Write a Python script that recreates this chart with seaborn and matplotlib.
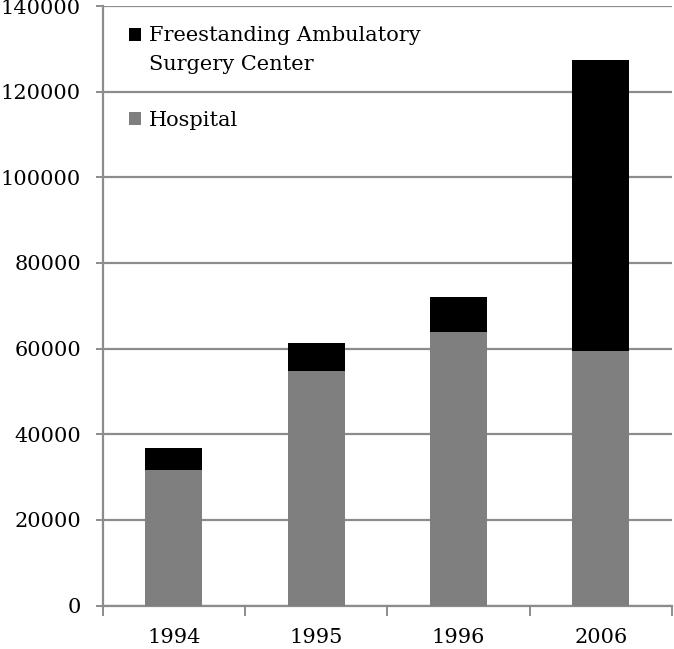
import matplotlib
matplotlib.use("Agg")
import matplotlib.pyplot as plt
from matplotlib.patches import Patch
from matplotlib.ticker import FixedLocator
import seaborn as sns
import pandas as pd

# Data
years = ["1994", "1995", "1996", "2006"]
hospital = [31600, 54700, 63800, 59500]
freestanding = [5200, 6600, 8200, 67900]
y_ticks = [0, 20000, 40000, 60000, 80000, 100000, 120000, 140000]
series_names = ["Freestanding Ambulatory\nSurgery Center", "Hospital"]

totals = [h + f for h, f in zip(hospital, freestanding)]
df = pd.DataFrame({"year": years, "hospital": hospital, "total": totals})

sns.set_theme(style="white")
plt.rcParams["font.family"] = ["DejaVu Serif"]
plt.rcParams["text.color"] = "black"

GRAY_BAR = "#7f7f7f"
GRAY_LINE = "#8c8c8c"
FS = 15
LFS = 15

fig = plt.figure(figsize=(6.74, 6.49), dpi=100)
ax = fig.add_axes([102.5 / 674, 43.5 / 649, 569.5 / 674, 599.5 / 649])

sns.barplot(data=df, x="year", y="total", color="black", saturation=1,
            width=0.4, ax=ax, linewidth=0, zorder=3)
sns.barplot(data=df, x="year", y="hospital", color=GRAY_BAR, saturation=1,
            width=0.4, ax=ax, linewidth=0, zorder=3)

ax.set_xlim(-0.5, len(years) - 0.5)
ax.set_ylim(y_ticks[0], y_ticks[-1])
ax.set_yticks(y_ticks)
ax.set_yticklabels([str(v) for v in y_ticks])
ax.yaxis.grid(True, color=GRAY_LINE, linewidth=1.6, zorder=0)
ax.xaxis.grid(False)
ax.set_axisbelow(True)
ax.set_xlabel("")
ax.set_ylabel("")

for side in ["top", "right"]:
    ax.spines[side].set_visible(False)
for side in ["left", "bottom"]:
    ax.spines[side].set_color(GRAY_LINE)
    ax.spines[side].set_linewidth(1.6)

ax.tick_params(axis="y", which="major", left=True, length=5, width=1.4,
               color=GRAY_LINE, pad=10.5, labelsize=FS, labelcolor="black")
ax.tick_params(axis="x", which="major", bottom=False, length=0, pad=16.5,
               labelsize=FS, labelcolor="black")
ax.xaxis.set_minor_locator(FixedLocator([i - 0.5 for i in range(len(years) + 1)]))
ax.tick_params(axis="x", which="minor", bottom=True, length=7, width=1.4,
               color=GRAY_LINE)

handles = [
    Patch(facecolor="black", edgecolor="none"),
    Patch(facecolor="none", edgecolor="none"),
    Patch(facecolor="none", edgecolor="none"),
    Patch(facecolor=GRAY_BAR, edgecolor="none"),
]
first, second = series_names[0].split("\n")
labels = [first, second, " ", series_names[1]]
leg = ax.legend(handles, labels, loc="upper left", bbox_to_anchor=(0.046, 0.966),
                frameon=False, fontsize=LFS, handlelength=0.58, handleheight=0.58,
                handletextpad=0.4, labelspacing=0.44, borderpad=0, borderaxespad=0)
for t in leg.get_texts():
    t.set_color("black")

fig.savefig("out.png", dpi=100, facecolor="white")
